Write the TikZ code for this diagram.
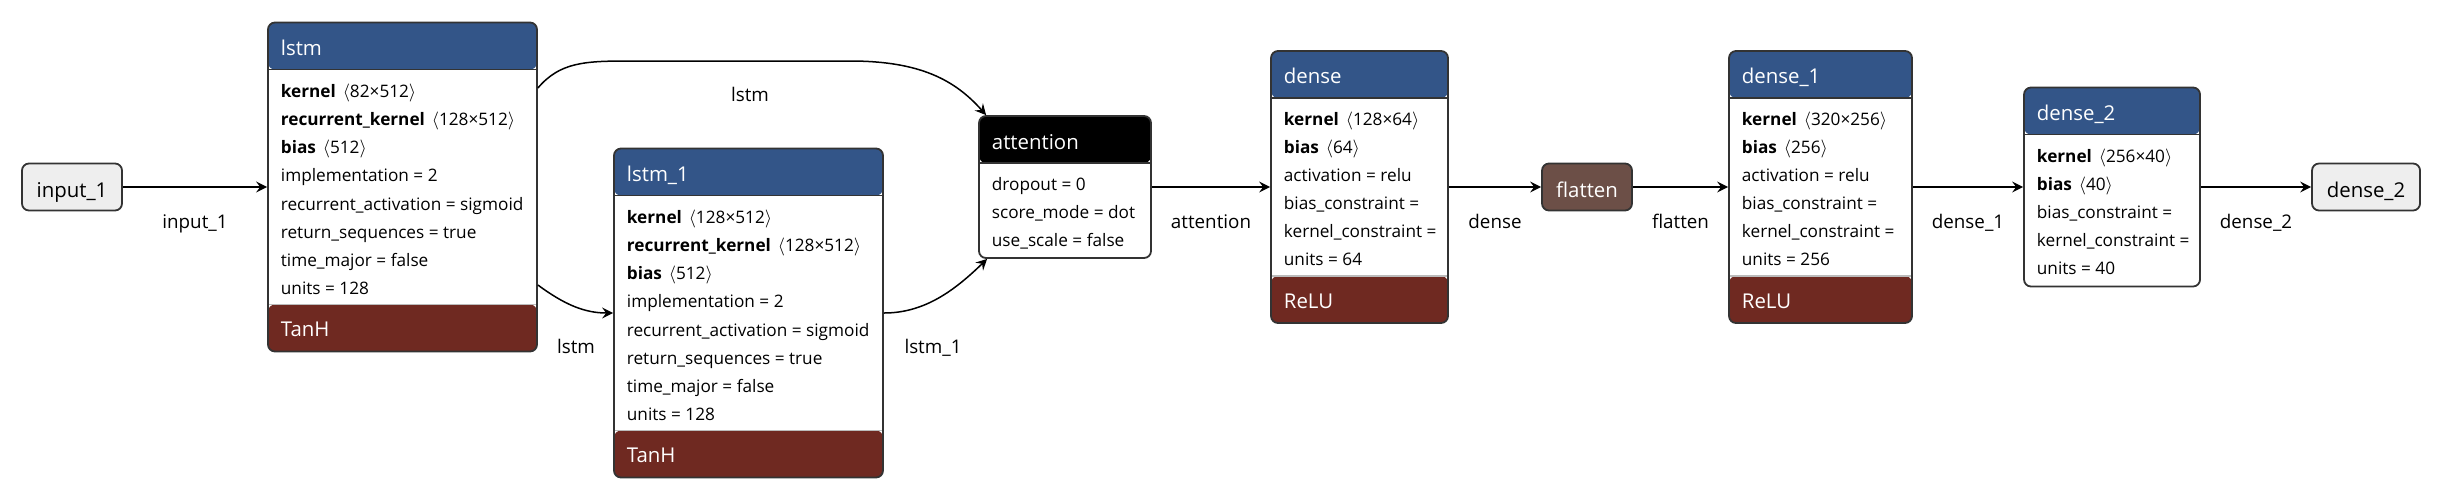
\documentclass[tikz,border=0pt]{standalone}
\usepackage{fontspec}
\setmainfont{Open Sans}
\usetikzlibrary{arrows.meta}

\definecolor{boxgray}{HTML}{333333}
\definecolor{layerblue}{HTML}{335588}
\definecolor{actred}{HTML}{6F2921}
\definecolor{shapebrown}{HTML}{6C4F47}
\definecolor{iogray}{HTML}{EEEEEE}
\definecolor{sepgray}{HTML}{BBBBBB}

\newcommand{\dims}[1]{\hspace{0.4em}$\langle$#1$\rangle$}

\tikzset{
  layerbox/.style={draw=boxgray, line width=0.9pt, rounded corners=3.5pt, fill=white, inner sep=0pt},
  head/.style={path picture={
    \fill[#1] (path picture bounding box.north west) rectangle ([yshift=-23.5pt]path picture bounding box.north east);
    \draw[boxgray, line width=0.6pt] ([yshift=-23.5pt]path picture bounding box.north west) -- ([yshift=-23.5pt]path picture bounding box.north east);}},
  headact/.style={path picture={
    \fill[#1] (path picture bounding box.north west) rectangle ([yshift=-23.5pt]path picture bounding box.north east);
    \draw[boxgray, line width=0.6pt] ([yshift=-23.5pt]path picture bounding box.north west) -- ([yshift=-23.5pt]path picture bounding box.north east);
    \fill[actred] (path picture bounding box.south west) rectangle ([yshift=23.5pt]path picture bounding box.south east);
    \draw[sepgray, line width=0.6pt] ([yshift=23.5pt]path picture bounding box.south west) -- ([yshift=23.5pt]path picture bounding box.south east);}},
  io/.style={draw=boxgray, line width=0.9pt, rounded corners=3.5pt, inner sep=0pt, minimum height=23.5pt, text height=10pt, text depth=0pt, font=\fontsize{10.2}{12}\selectfont},
  headtext/.style={anchor=base west, inner sep=0pt, text=white, font=\fontsize{10.2}{12}\selectfont},
  attr/.style={anchor=base west, inner sep=0pt, font=\fontsize{8.6}{10}\selectfont},
  elabel/.style={anchor=base, inner sep=0pt, font=\fontsize{9.4}{11}\selectfont},
  flow/.style={-{Stealth[length=5.5pt,width=5.5pt,inset=2pt]}, line width=0.75pt},
}

\begin{document}
\begin{tikzpicture}[x=0.5pt, y=-0.5pt]
\useasboundingbox (0,0) rectangle (2444,500);

% Input
\node[io, fill=iogray, minimum width=50pt] (input1) at (72,187) {input\_1};

% lstm
\node[layerbox, headact=layerblue, minimum width=134.5pt, minimum height=164.5pt] (lstm) at (402.5,187) {};
\node[headtext] at (280.5,55) {lstm};
\foreach \t [count=\i] in {{\textbf{kernel}\dims{82×512}}, {\textbf{recurrent\_kernel}\dims{128×512}},
    {\textbf{bias}\dims{512}}, {implementation = 2}, {recurrent\_activation = sigmoid},
    {return\_sequences = true}, {time\_major = false}, {units = 128}}
  \node[attr] at (280.5,{69.5+28.1*\i}) {\t};
\node[headtext] at (280.5,336.5) {TanH};

% lstm_1
\node[layerbox, headact=layerblue, minimum width=134.5pt, minimum height=164.5pt] (lstm1) at (748.5,313) {};
\node[headtext] at (626.5,181.5) {lstm\_1};
\foreach \t [count=\i] in {{\textbf{kernel}\dims{128×512}}, {\textbf{recurrent\_kernel}\dims{128×512}},
    {\textbf{bias}\dims{512}}, {implementation = 2}, {recurrent\_activation = sigmoid},
    {return\_sequences = true}, {time\_major = false}, {units = 128}}
  \node[attr] at (626.5,{195.5+28.1*\i}) {\t};
\node[headtext] at (626.5,462.5) {TanH};

% attention
\node[layerbox, head=black, minimum width=86pt, minimum height=71pt] (attention) at (1065,187) {};
\node[headtext] at (991.5,149) {attention};
\foreach \t [count=\i] in {{dropout = 0}, {score\_mode = dot}, {use\_scale = false}}
  \node[attr] at (991.5,{162.5+28*\i}) {\t};

% dense
\node[layerbox, headact=layerblue, minimum width=88.5pt, minimum height=136pt] (dense) at (1359.5,187) {};
\node[headtext] at (1283.5,83.5) {dense};
\foreach \t [count=\i] in {{\textbf{kernel}\dims{128×64}}, {\textbf{bias}\dims{64}}, {activation = relu},
    {bias\_constraint =}, {kernel\_constraint =}, {units = 64}}
  \node[attr] at (1283.5,{97.5+28*\i}) {\t};
\node[headtext] at (1283.5,308.5) {ReLU};

% flatten
\node[io, fill=shapebrown, text=white, minimum width=45pt] (flatten) at (1587,187) {flatten};

% dense_1
\node[layerbox, headact=layerblue, minimum width=91.5pt, minimum height=136pt] (dense1) at (1820.5,187) {};
\node[headtext] at (1741.5,83.5) {dense\_1};
\foreach \t [count=\i] in {{\textbf{kernel}\dims{320×256}}, {\textbf{bias}\dims{256}}, {activation = relu},
    {bias\_constraint =}, {kernel\_constraint =}, {units = 256}}
  \node[attr] at (1741.5,{97.5+28*\i}) {\t};
\node[headtext] at (1741.5,308.5) {ReLU};

% dense_2
\node[layerbox, head=layerblue, minimum width=88pt, minimum height=99.5pt] (dense2) at (2112,187) {};
\node[headtext] at (2036.5,120.5) {dense\_2};
\foreach \t [count=\i] in {{\textbf{kernel}\dims{256×40}}, {\textbf{bias}\dims{40}},
    {bias\_constraint =}, {kernel\_constraint =}, {units = 40}}
  \node[attr] at (2036.5,{134.5+28*\i}) {\t};

% Output
\node[io, fill=iogray, minimum width=54pt] (output) at (2366,187) {dense\_2};

% Edges
\draw[flow] (input1) -- node[elabel, yshift=-20.5pt] {input\_1} (lstm);
\draw[flow] (lstm.east |- 0,88) .. controls (560,62) and (585,61) .. (630,61) -- (850,61)
  .. controls (920,61) and (955,80) .. ([xshift=4pt]attention.north west);
\node[elabel] (lstmtop) at (750,101) {lstm};
\draw[flow] (lstm.east |- 0,285) .. controls (565,305) and (585,313) .. (lstm1.west);
\node[elabel] (lstmlow) at (576,353) {lstm};
\draw[flow] (lstm1.east) .. controls (925,313) and (955,290) .. ([xshift=4.5pt]attention.south west);
\node[elabel] (lstm1lab) at (933,353) {lstm\_1};
\draw[flow] (attention) -- node[elabel, yshift=-20.5pt] {attention} (dense);
\draw[flow] (dense) -- node[elabel, yshift=-20.5pt] {dense} (flatten);
\draw[flow] (flatten) -- node[elabel, yshift=-20.5pt] {flatten} (dense1);
\draw[flow] (dense1) -- node[elabel, yshift=-20.5pt] {dense\_1} (dense2);
\draw[flow] (dense2) -- node[elabel, yshift=-20.5pt] {dense\_2} (output);
\end{tikzpicture}
\end{document}
